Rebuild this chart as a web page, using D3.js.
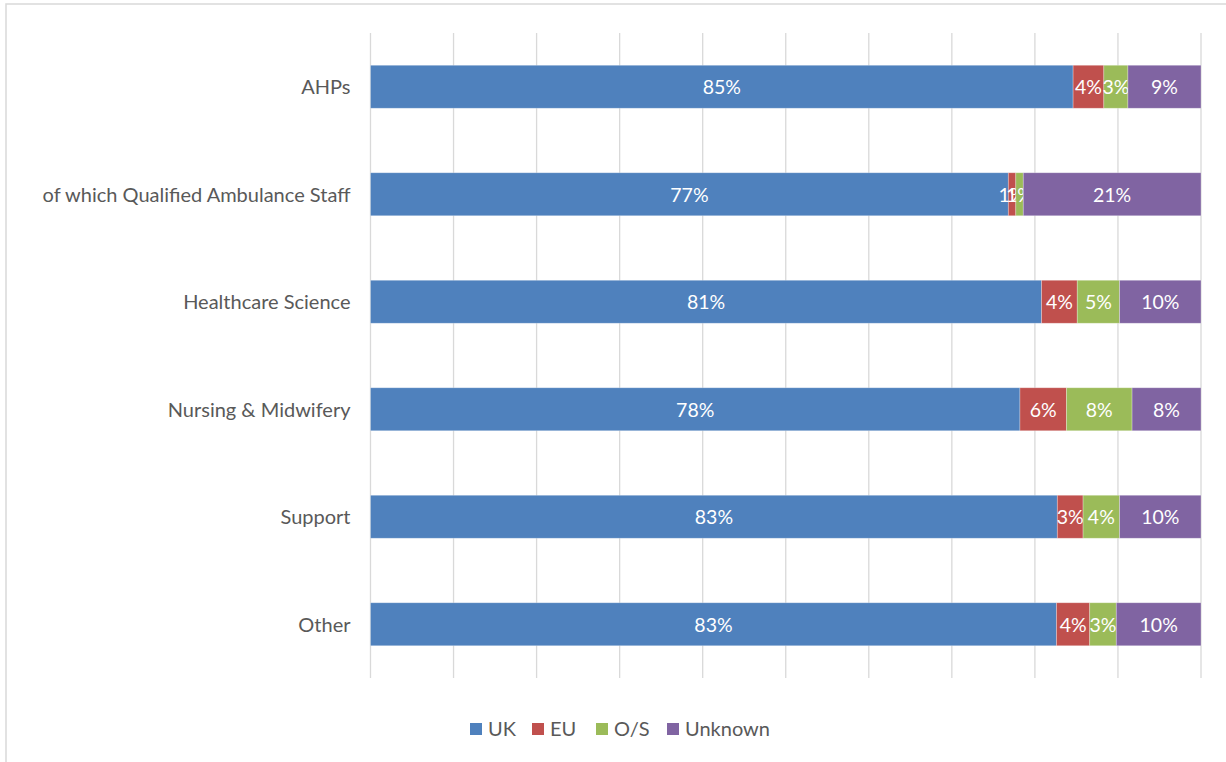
<!DOCTYPE html>
<html>
<head>
<meta charset="utf-8">
<script src="https://cdn.jsdelivr.net/npm/d3@7"></script>
<style>
  body { margin: 0; background: #fff; }
  svg text { font-family: Lato, "Open Sans", sans-serif; }
</style>
</head>
<body>
<div id="chart"></div>
<script>
// categories top to bottom
const categories = ['AHPs', 'of which Qualified Ambulance Staff', 'Healthcare Science',
    'Nursing & Midwifery', 'Support', 'Other'];
const seriesNames = ['UK', 'EU', 'O/S', 'Unknown'];
// shares (%)
const ukValues = [84.6, 76.8, 80.8, 78.2, 82.7, 82.6];
const euValues = [3.7, 0.9, 4.3, 5.6, 3.1, 4.0];
const osValues = [2.9, 0.9, 5.1, 7.9, 4.4, 3.2];
const unknownValues = [8.8, 21.4, 9.8, 8.3, 9.8, 10.2];
const xTicks = [0, 10, 20, 30, 40, 50, 60, 70, 80, 90, 100];

const colors = { 'UK': '#4F81BD', 'EU': '#C0504D', 'O/S': '#9BBB59', 'Unknown': '#8064A2' };

const width = 1226, height = 762;
const margin = { top: 33, left: 370.5, right: 25, bottom: 84 };
const innerWidth = width - margin.left - margin.right;
const innerHeight = height - margin.top - margin.bottom;

const rows = categories.map((c, i) => ({
    category: c,
    'UK': ukValues[i], 'EU': euValues[i], 'O/S': osValues[i], 'Unknown': unknownValues[i]
}));

const svg = d3.select('#chart').append('svg')
    .attr('width', width)
    .attr('height', height);

// chart frame (right and bottom edges fall outside the picture)
svg.append('rect')
    .attr('x', 6).attr('y', 4)
    .attr('width', width + 20).attr('height', height + 20)
    .attr('fill', 'none')
    .attr('stroke', '#d9d9d9')
    .attr('stroke-width', 1.5);

const g = svg.append('g')
    .attr('transform', `translate(${margin.left},${margin.top})`);

const x = d3.scaleLinear().domain([0, 100]).range([0, innerWidth]);
const y = d3.scaleBand().domain(categories).range([0, innerHeight])
    .paddingInner(0.6).paddingOuter(0.3);

// gridlines
g.selectAll('.grid')
    .data(xTicks)
    .enter().append('line')
    .attr('class', 'grid')
    .attr('x1', d => x(d)).attr('x2', d => x(d))
    .attr('y1', 0).attr('y2', innerHeight)
    .attr('stroke', '#d9d9d9')
    .attr('stroke-width', 1.3);

// category axis
const yAxis = d3.axisLeft(y).tickSize(0).tickPadding(20);
const yAxisG = g.append('g').call(yAxis);
yAxisG.select('.domain').remove();
yAxisG.selectAll('text')
    .attr('font-size', 20)
    .attr('fill', '#595959')
    .attr('dy', '0.38em')
    .style('font-family', 'Lato, "Open Sans", sans-serif');

const stacked = d3.stack().keys(seriesNames)(rows);

const layers = g.selectAll('.layer')
    .data(stacked)
    .enter().append('g')
    .attr('class', 'layer')
    .attr('fill', d => colors[d.key]);

layers.selectAll('rect')
    .data(d => d)
    .enter().append('rect')
    .attr('x', d => x(d[0]))
    .attr('y', d => y(d.data.category))
    .attr('width', d => x(d[1]) - x(d[0]))
    .attr('height', y.bandwidth())
    .attr('stroke', '#ffffff')
    .attr('stroke-opacity', 0.35)
    .attr('stroke-width', 0.8);

// segment labels
layers.selectAll('text')
    .data(d => d)
    .enter().append('text')
    .attr('x', d => (x(d[0]) + x(d[1])) / 2)
    .attr('y', d => y(d.data.category) + y.bandwidth() / 2)
    .attr('dy', '0.38em')
    .attr('text-anchor', 'middle')
    .attr('font-size', 19.5)
    .attr('fill', '#ffffff')
    .text(d => Math.round(d[1] - d[0]) + '%');

// legend
const legendItems = [
    { key: 'UK', x: 470 },
    { key: 'EU', x: 532 },
    { key: 'O/S', x: 596 },
    { key: 'Unknown', x: 667 }
];
const legend = svg.append('g');
const li = legend.selectAll('g')
    .data(legendItems)
    .enter().append('g')
    .attr('transform', d => `translate(${d.x},729)`);
li.append('rect')
    .attr('x', 0).attr('y', -6)
    .attr('width', 12).attr('height', 12)
    .attr('fill', d => colors[d.key]);
li.append('text')
    .attr('x', 18)
    .attr('dy', '0.36em')
    .attr('font-size', 20)
    .attr('fill', '#595959')
    .text(d => d.key);
</script>
</body>
</html>
